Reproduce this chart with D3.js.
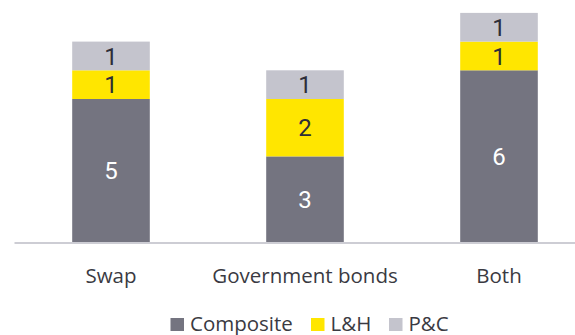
<!DOCTYPE html>
<html>
<head>
<meta charset="utf-8">
<script src="https://cdn.jsdelivr.net/npm/d3@7/dist/d3.min.js"></script>
<style>
  html, body { margin: 0; padding: 0; background: #fff; }
  svg { display: block; font-family: "Open Sans", "Noto Sans", sans-serif; }
</style>
</head>
<body>
<svg id="chart" width="575" height="335"></svg>
<script>
// Stacked counts per hedging instrument
const categories = ["Swap", "Government bonds", "Both"];
const seriesNames = ["Composite", "L&H", "P&C"];
const composite = [5, 3, 6];
const lifeHealth = [1, 2, 1];
const propertyCasualty = [1, 1, 1];
const colors = ["#747480", "#FFE600", "#C4C4CD"];
const labelColors = ["#FFFFFF", "#2E2E38", "#2E2E38"];

const rows = categories.map((c, i) => ({
  category: c,
  "Composite": composite[i],
  "L&H": lifeHealth[i],
  "P&C": propertyCasualty[i]
}));

const svg = d3.select("#chart");
const baseline = 242.5;

const x = d3.scaleBand()
  .domain(categories)
  .range([14, 596])
  .paddingInner(0.6)
  .paddingOuter(0.3);

const y = d3.scaleLinear()
  .domain([0, 8])
  .range([baseline, baseline - 8 * 28.7]);

const stack = d3.stack().keys(seriesNames);
const layers = stack(rows);

const g = svg.append("g");

layers.forEach((layer, li) => {
  const lg = g.append("g");
  lg.selectAll("rect")
    .data(layer)
    .join("rect")
    .attr("x", d => x(d.data.category))
    .attr("width", x.bandwidth())
    .attr("y", d => y(d[1]))
    .attr("height", d => y(d[0]) - y(d[1]))
    .attr("fill", colors[li]);
  // Segment values, compact font so stacked labels stay inside their segments
  lg.selectAll("text")
    .data(layer)
    .join("text")
    .attr("x", d => x(d.data.category) + x.bandwidth() / 2)
    .attr("y", d => (y(d[0]) + y(d[1])) / 2)
    .attr("dy", "0.36em")
    .attr("text-anchor", "middle")
    .attr("font-family", "Roboto, 'Open Sans', sans-serif")
    .attr("font-size", 24)
    .attr("fill", labelColors[li])
    .text(d => d[1] - d[0]);
});

// Category axis
const axis = d3.axisBottom(x).tickSize(0).tickPadding(0);
const ax = svg.append("g")
  .attr("transform", `translate(0,${baseline})`)
  .call(axis);
ax.select(".domain")
  .attr("stroke", "#CDCDD4")
  .attr("stroke-width", 2);
ax.selectAll(".tick text")
  .attr("y", 40.5)
  .attr("dy", 0)
  .attr("font-size", 20.5)
  .attr("font-family", "'Open Sans', 'Noto Sans', sans-serif")
  .attr("fill", "#3A3A42");

// Legend
const legendX = [170.5, 311, 389];
const legend = svg.append("g");
seriesNames.forEach((name, i) => {
  legend.append("rect")
    .attr("x", legendX[i])
    .attr("y", 318)
    .attr("width", 13.5)
    .attr("height", 13)
    .attr("fill", colors[i]);
  legend.append("text")
    .attr("x", legendX[i] + 19.5)
    .attr("y", 330.5)
    .attr("font-size", 20.5)
    .attr("fill", "#3A3A42")
    .text(name);
});
</script>
</body>
</html>
